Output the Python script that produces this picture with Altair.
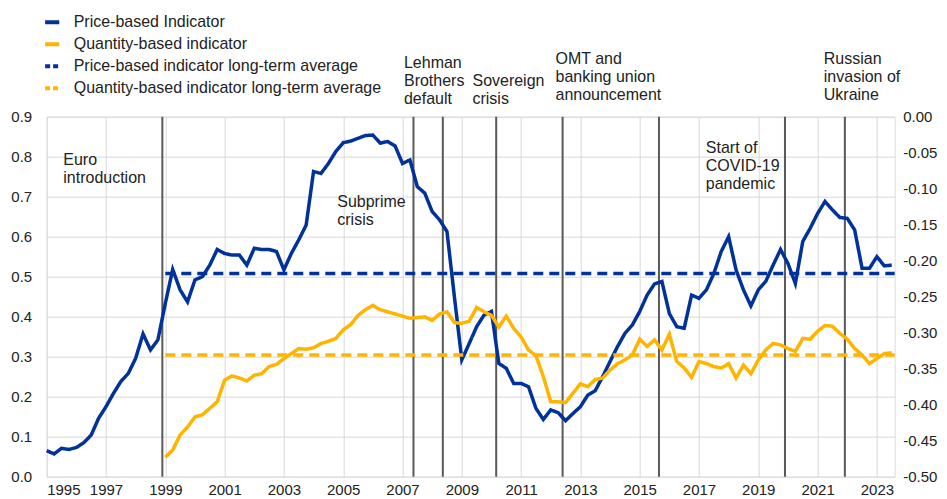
import altair as alt
import pandas as pd

# ---------------- data ----------------
series_names = [
    "Price-based Indicator",
    "Quantity-based indicator",
    "Price-based indicator long-term average",
    "Quantity-based indicator long-term average",
]

# quarterly, first value = 1995 Q1
price_start = 1995.0
price_values = [
    0.065, 0.057, 0.071, 0.068,
    0.073, 0.085, 0.104, 0.146,
    0.175, 0.208, 0.238, 0.258,
    0.296, 0.357, 0.317, 0.342,
    0.433, 0.518, 0.467, 0.437,
    0.492, 0.500, 0.529, 0.568,
    0.558, 0.554, 0.554, 0.529,
    0.571, 0.568, 0.568, 0.563,
    0.517, 0.558, 0.592, 0.629,
    0.763, 0.758, 0.783, 0.813,
    0.835, 0.839, 0.846, 0.853,
    0.854, 0.834, 0.838, 0.827,
    0.783, 0.792, 0.725, 0.709,
    0.663, 0.642, 0.613, 0.450,
    0.292, 0.333, 0.375, 0.404,
    0.413, 0.283, 0.271, 0.233,
    0.233, 0.225, 0.171, 0.143,
    0.167, 0.160, 0.140, 0.158,
    0.175, 0.204, 0.215, 0.250,
    0.288, 0.325, 0.358, 0.379,
    0.413, 0.454, 0.482, 0.488,
    0.408, 0.375, 0.371, 0.454,
    0.446, 0.467, 0.508, 0.563,
    0.600, 0.517, 0.467, 0.427,
    0.467, 0.488, 0.529, 0.568,
    0.533, 0.483, 0.588, 0.621,
    0.658, 0.688, 0.667, 0.648,
    0.646, 0.617, 0.521, 0.521,
    0.550, 0.527, 0.529,
]

# quarterly, first value = 1999 Q1 (right-hand scale)
quantity_start = 1999.0
quantity_values = [
    -0.473, -0.463, -0.442, -0.431,
    -0.417, -0.414, -0.405, -0.396,
    -0.366, -0.360, -0.363, -0.367,
    -0.359, -0.357, -0.347, -0.344,
    -0.336, -0.329, -0.322, -0.323,
    -0.321, -0.315, -0.312, -0.308,
    -0.296, -0.289, -0.276, -0.268,
    -0.262, -0.268, -0.271, -0.274,
    -0.277, -0.280, -0.279, -0.278,
    -0.283, -0.274, -0.271, -0.286,
    -0.287, -0.284, -0.265, -0.271,
    -0.276, -0.292, -0.277, -0.294,
    -0.306, -0.324, -0.332, -0.361,
    -0.396, -0.396, -0.397, -0.384,
    -0.371, -0.375, -0.365, -0.363,
    -0.352, -0.343, -0.338, -0.331,
    -0.309, -0.319, -0.310, -0.324,
    -0.302, -0.340, -0.349, -0.362,
    -0.340, -0.343, -0.347, -0.349,
    -0.343, -0.363, -0.345, -0.357,
    -0.338, -0.324, -0.315, -0.317,
    -0.322, -0.326, -0.308, -0.309,
    -0.298, -0.290, -0.291, -0.301,
    -0.309, -0.322, -0.331, -0.343,
    -0.336, -0.329, -0.328,
]

price_average = 0.508
quantity_average = -0.331
average_span = [1999.0, 2023.6]

event_years = [1998.9, 2007.37, 2008.36, 2010.16, 2012.40, 2015.65, 2019.9, 2021.92]

annotation_labels = [
    "Euro\nintroduction",
    "Subprime\ncrisis",
    "Lehman\nBrothers\ndefault",
    "Sovereign\ncrisis",
    "OMT and\nbanking union\nannouncement",
    "Start of\nCOVID-19\npandemic",
    "Russian\ninvasion of\nUkraine",
]
annotation_year = [1995.56, 2004.80, 2007.05, 2009.36, 2012.16, 2017.23, 2021.21]
annotation_level = [0.812, 0.707, 1.053, 1.008, 1.063, 0.841, 1.065]

x_ticks = [1995, 1997, 1999, 2001, 2003, 2005, 2007, 2009, 2011, 2013, 2015, 2017, 2019, 2021, 2023]
left_ticks = [0.0, 0.1, 0.2, 0.3, 0.4, 0.5, 0.6, 0.7, 0.8, 0.9]
right_ticks = [-0.50, -0.45, -0.40, -0.35, -0.30, -0.25, -0.20, -0.15, -0.10, -0.05, 0.00]

# ---------------- tables ----------------
price_df = pd.DataFrame({
    "year": [price_start + i / 4 for i in range(len(price_values))],
    "value": price_values,
    "series": series_names[0],
})
quantity_df = pd.DataFrame({
    "year": [quantity_start + i / 4 for i in range(len(quantity_values))],
    "value": quantity_values,
    "series": series_names[1],
})
price_avg_df = pd.DataFrame({"year": average_span, "value": [price_average] * 2, "series": series_names[2]})
quantity_avg_df = pd.DataFrame({"year": average_span, "value": [quantity_average] * 2, "series": series_names[3]})
events_df = pd.DataFrame({"year": event_years})
ann_df = pd.DataFrame({"year": annotation_year, "value": annotation_level, "label": annotation_labels})

# ---------------- styles ----------------
BLUE = "#003299"
YELLOW = "#ffb400"
TEXT = "#222222"
GRID = "#d9d9d9"
FONT = "Liberation Sans"

x_scale = alt.Scale(domain=[1995, 2023.6], nice=False, zero=False)
left_scale = alt.Scale(domain=[0, 0.9], nice=False, zero=False)
right_scale = alt.Scale(domain=[-0.5, 0], nice=False, zero=False)
color_scale = alt.Scale(domain=series_names, range=[BLUE, YELLOW, BLUE, YELLOW])
dash_scale = alt.Scale(domain=series_names, range=[[1, 0], [1, 0], [5, 3], [5, 3]])

x_axis = alt.Axis(values=x_ticks, format="d", title=None, grid=True, gridColor=GRID,
                  ticks=False, domain=False, labelPadding=6, labelFontSize=15,
                  labelColor=TEXT, labelFont=FONT)
left_axis = alt.Axis(values=left_ticks, format=".1f", title=None, grid=True, gridColor=GRID,
                     ticks=False, domain=False, labelPadding=15, labelFontSize=15,
                     labelColor=TEXT, labelFont=FONT)
right_axis = alt.Axis(values=right_ticks, orient="right", title=None, grid=False,
                      labelExpr="replace(format(datum.value, '.2f'), '\u2212', '-')",
                      ticks=False, domain=False, labelPadding=8, labelFontSize=15,
                      labelColor=TEXT, labelFont=FONT)

legend = alt.Legend(orient="none", legendX=-4, legendY=-104, title=None,
                    symbolType="stroke", symbolStrokeWidth=4, symbolSize=200,
                    labelFontSize=16, labelFont=FONT, labelColor=TEXT,
                    rowPadding=4, labelOffset=12, padding=0, labelLimit=400)

X = alt.X("year:Q", scale=x_scale, axis=x_axis)
color = alt.Color("series:N", scale=color_scale, legend=legend)
dash = alt.StrokeDash("series:N", scale=dash_scale, legend=legend)

events = alt.Chart(events_df).mark_rule(color="#595959", strokeWidth=2).encode(x=X)

price_line = alt.Chart(price_df).mark_line(strokeWidth=3.5).encode(
    x=X, y=alt.Y("value:Q", scale=left_scale, axis=left_axis), color=color, strokeDash=dash
)
price_avg = alt.Chart(price_avg_df).mark_line(strokeWidth=3.5, strokeDash=[10, 6]).encode(
    x=X, y=alt.Y("value:Q", scale=left_scale, axis=left_axis), color=color
)
annotations = alt.Chart(ann_df).mark_text(
    align="left", baseline="top", lineBreak="\n", lineHeight=18,
    fontSize=16, font=FONT, color=TEXT
).encode(x=X, y=alt.Y("value:Q", scale=left_scale, axis=left_axis), text="label:N")

quantity_line = alt.Chart(quantity_df).mark_line(strokeWidth=3.5).encode(
    x=X, y=alt.Y("value:Q", scale=right_scale, axis=right_axis), color=color, strokeDash=dash
)
quantity_avg = alt.Chart(quantity_avg_df).mark_line(strokeWidth=3.5, strokeDash=[10, 6]).encode(
    x=X, y=alt.Y("value:Q", scale=right_scale, axis=right_axis), color=color
)

left = alt.layer(events, price_line, price_avg, annotations)
right = alt.layer(quantity_line, quantity_avg)

chart = alt.layer(left, right).resolve_scale(y="independent").properties(
    width=848, height=360,
    padding={"left": 38.7, "top": 108.7, "right": 44, "bottom": 22},
    autosize=alt.AutoSizeParams(type="none"),
).configure_view(stroke=GRID).configure(font=FONT)

chart.save("out.html", embed_options={"renderer": "svg", "actions": False})
